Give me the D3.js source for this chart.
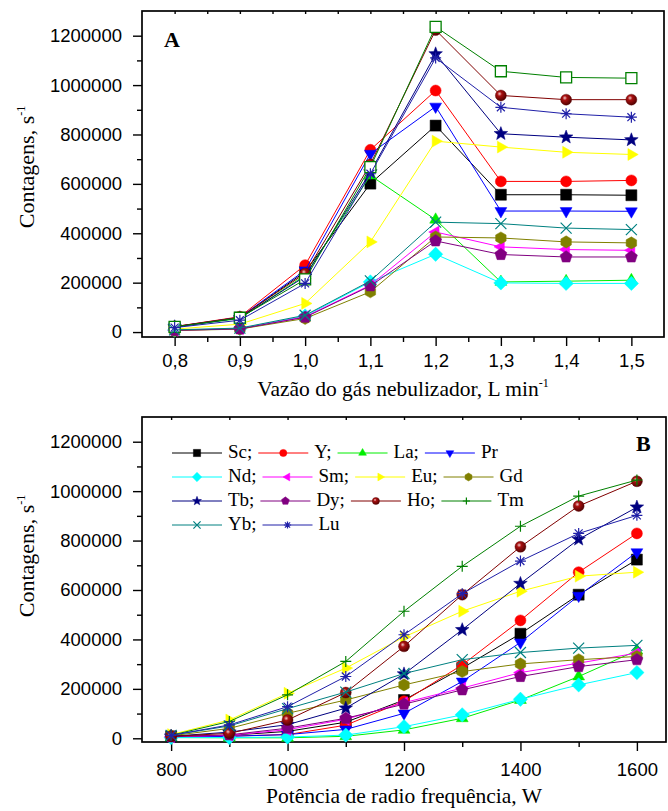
<!DOCTYPE html>
<html>
<head>
<meta charset="utf-8">
<script src="https://cdn.jsdelivr.net/npm/d3@7"></script>
<style>
  body { margin: 0; background: #fff; }
</style>
</head>
<body>
<div id="chart"></div>
<script>
// elements, in plotting / legend order
var elements = ["Sc", "Y", "La", "Pr", "Nd", "Sm", "Eu", "Gd", "Tb", "Dy", "Ho", "Tm", "Yb", "Lu"]

// A: nebulizer gas flow (L/min)
var flowX = [0.8, 0.9, 1.0, 1.1, 1.2, 1.3, 1.4, 1.5]
var flowCounts = [
  [20000, 58000, 244000, 601000, 836000, 556000, 556000, 554000],     // Sc
  [22000, 62000, 271000, 738000, 978000, 610000, 610000, 614000],     // Y
  [20000, 55000, 230000, 634000, 455000, 203000, 206000, 210000],     // La
  [21000, 60000, 250000, 722000, 913000, 490000, 490000, 489000],     // Pr
  [8000, 14000, 65000, 203000, 315000, 199000, 197000, 197000],       // Nd
  [7000, 13000, 62000, 190000, 405000, 345000, 334000, 331000],       // Sm
  [12000, 32000, 116000, 365000, 773000, 749000, 728000, 719000],     // Eu
  [6000, 12000, 55000, 163000, 385000, 381000, 365000, 361000],       // Gd
  [21000, 57000, 225000, 648000, 1126000, 803000, 789000, 778000],    // Tb
  [7000, 13000, 60000, 187000, 369000, 314000, 304000, 304000],       // Dy
  [22000, 60000, 237000, 679000, 1223000, 958000, 941000, 941000],    // Ho
  [21000, 58000, 213000, 668000, 1236000, 1056000, 1031000, 1028000], // Tm
  [9000, 16000, 68000, 207000, 445000, 439000, 421000, 415000],       // Yb
  [18000, 48000, 197000, 641000, 1110000, 910000, 884000, 870000]     // Lu
]

// B: RF power (W)
var powerX = [800, 900, 1000, 1100, 1200, 1300, 1400, 1500, 1600]
var powerCounts = [
  [8000, 12000, 28000, 65000, 155000, 284000, 423000, 581000, 723000],     // Sc
  [6000, 9000, 15000, 53000, 150000, 297000, 477000, 672000, 829000],      // Y
  [3000, 2000, 2000, 8000, 34000, 81000, 155000, 250000, 355000],          // La
  [5000, 8000, 15000, 36000, 101000, 230000, 388000, 577000, 753000],      // Pr
  [3000, 3000, 5000, 13000, 47000, 95000, 158000, 216000, 266000],         // Nd
  [6000, 12000, 35000, 77000, 144000, 203000, 266000, 304000, 345000],     // Sm
  [15000, 74000, 182000, 284000, 410000, 514000, 595000, 656000, 672000],  // Eu
  [10000, 40000, 101000, 155000, 216000, 270000, 301000, 318000, 331000],  // Gd
  [8000, 25000, 55000, 122000, 260000, 439000, 626000, 805000, 935000],    // Tb
  [6000, 14000, 41000, 81000, 138000, 196000, 250000, 290000, 318000],     // Dy
  [8000, 20000, 74000, 185000, 372000, 581000, 775000, 940000, 1040000],   // Ho
  [12000, 68000, 176000, 311000, 514000, 696000, 858000, 980000, 1045000], // Tm
  [12000, 50000, 120000, 187000, 262000, 318000, 347000, 365000, 376000],  // Yb
  [12000, 54000, 128000, 250000, 419000, 585000, 717000, 829000, 902000]   // Lu
]

var countTicks = [0, 200000, 400000, 600000, 800000, 1000000, 1200000]
var countMinor = [100000, 300000, 500000, 700000, 900000, 1100000]
var flowTicks = [0.8, 0.9, 1.0, 1.1, 1.2, 1.3, 1.4, 1.5]
var flowMinor = [0.85, 0.95, 1.05, 1.15, 1.25, 1.35, 1.45]
var powerTicks = [800, 1000, 1200, 1400, 1600]
var powerMinor = [900, 1100, 1300, 1500]

var colors = ["#000000", "#ff0000", "#00ee00", "#0000ff", "#00ffff", "#ff00ff", "#ffff00",
              "#808000", "#000080", "#800080", "#800000", "#008000", "#008080", "#2020a8"]
var symbolsA = ["square", "circle", "up", "down", "diamond", "left", "right",
                "hexagon", "star", "pentagon", "sphere", "open", "x", "asterisk"]
var symbolsB = symbolsA.map(function(s){ return s === "open" ? "plus" : s })

var serif = "'Liberation Serif', 'Times New Roman', 'DejaVu Serif', serif"
var sans = "'Liberation Sans', Arial, sans-serif"

var width = 668, height = 811

var svg = d3.select("#chart").append("svg")
  .attr("width", width)
  .attr("height", height)

var grad = svg.append("defs").append("radialGradient")
  .attr("id", "sphere").attr("cx", "38%").attr("cy", "35%").attr("r", "70%")
grad.append("stop").attr("offset", "0").attr("stop-color", "#f4c8c8")
grad.append("stop").attr("offset", "0.3").attr("stop-color", "#a81010")
grad.append("stop").attr("offset", "1").attr("stop-color", "#4a0000")

function poly(n, r, startDeg){
  var pts = []
  for (var i = 0; i < n; i++){
    var a = (startDeg + i * 360 / n) * Math.PI / 180
    pts.push([r * Math.cos(a), r * Math.sin(a)])
  }
  return "M" + pts.map(function(p){ return p[0].toFixed(2) + "," + p[1].toFixed(2) }).join("L") + "Z"
}

function starPath(ro, ri){
  var pts = []
  for (var i = 0; i < 10; i++){
    var r = i % 2 ? ri : ro
    var a = (-90 + i * 36) * Math.PI / 180
    pts.push([r * Math.cos(a), r * Math.sin(a)])
  }
  return "M" + pts.map(function(p){ return p[0].toFixed(2) + "," + p[1].toFixed(2) }).join("L") + "Z"
}

function markerPath(type, r){
  switch (type){
    case "square": return "M" + (-r) + "," + (-r) + "H" + r + "V" + r + "H" + (-r) + "Z"
    case "open": return "M" + (-r) + "," + (-r) + "H" + r + "V" + r + "H" + (-r) + "Z"
    case "circle":
    case "sphere": return "M" + r + ",0A" + r + "," + r + " 0 1,1 " + (-r) + ",0A" + r + "," + r + " 0 1,1 " + r + ",0Z"
    case "up": return poly(3, r * 1.25, -90)
    case "down": return poly(3, r * 1.25, 90)
    case "left": return poly(3, r * 1.25, 180)
    case "right": return poly(3, r * 1.25, 0)
    case "diamond": return poly(4, r * 1.3, -90)
    case "hexagon": return poly(6, r * 1.1, -90)
    case "pentagon": return poly(5, r * 1.15, -90)
    case "star": return starPath(r * 1.3, r * 0.55)
    case "plus": return "M" + (-r) + ",0H" + r + "M0," + (-r) + "V" + r
    case "x": return "M" + (-r) + "," + (-r) + "L" + r + "," + r + "M" + (-r) + "," + r + "L" + r + "," + (-r)
    case "asterisk":
      var d = r * 0.72
      return "M" + (-r) + ",0H" + r + "M0," + (-r) + "V" + r +
        "M" + (-d) + "," + (-d) + "L" + d + "," + d + "M" + (-d) + "," + d + "L" + d + "," + (-d)
  }
}

function styleMarker(sel, type, color){
  if (type === "plus" || type === "x" || type === "asterisk"){
    sel.attr("fill", "none").attr("stroke", color).attr("stroke-width", 1.2)
  } else if (type === "open"){
    sel.attr("fill", "#fff").attr("stroke", color).attr("stroke-width", 1.3)
  } else if (type === "sphere"){
    sel.attr("fill", "url(#sphere)").attr("stroke", "#5a0000").attr("stroke-width", 0.4)
  } else {
    sel.attr("fill", color).attr("stroke", color).attr("stroke-width", 0.5)
  }
}

function drawPanel(p){
  var x = d3.scaleLinear().domain(p.xDomain).range([p.left, p.right])
  var y = d3.scaleLinear().domain(p.yDomain).range([p.bottom, p.top])
  var g = svg.append("g")

  // axes
  g.append("g").attr("transform", "translate(0," + p.bottom + ")")
    .call(d3.axisBottom(x).tickValues(p.xTicks).tickSize(9).tickPadding(p.xPad).tickFormat(p.xFormat))
  g.append("g").attr("transform", "translate(0," + p.bottom + ")")
    .call(d3.axisBottom(x).tickValues(p.xMinor).tickSize(5).tickFormat(""))
  g.append("g").attr("transform", "translate(0," + p.top + ")")
    .call(d3.axisBottom(x).tickValues(p.xTicks.concat(p.xMinor)).tickSize(3).tickFormat(""))
  g.append("g").attr("transform", "translate(" + p.left + ",0)")
    .call(d3.axisLeft(y).tickValues(countTicks).tickSize(9).tickPadding(11).tickFormat(d3.format("d")))
  g.append("g").attr("transform", "translate(" + p.left + ",0)")
    .call(d3.axisLeft(y).tickValues(countMinor).tickSize(5).tickFormat(""))
  g.selectAll(".domain").remove()
  g.selectAll(".tick line").attr("stroke", "#000").attr("stroke-width", 1.4)
  g.selectAll(".tick text")
    .attr("fill", "#000")
    .style("font-family", sans)
    .style("font-size", "18.5px")

  g.append("rect")
    .attr("x", p.left).attr("y", p.top)
    .attr("width", p.right - p.left).attr("height", p.bottom - p.top)
    .attr("fill", "none").attr("stroke", "#000").attr("stroke-width", 1.7)

  // series
  var line = d3.line()
    .x(function(d){ return x(d[0]) })
    .y(function(d){ return y(d[1]) })

  p.counts.forEach(function(vals, i){
    var pts = p.xs.map(function(v, j){ return [v, vals[j]] })
    var s = g.append("g")
    s.append("path").datum(pts)
      .attr("d", line)
      .attr("fill", "none")
      .attr("stroke", colors[i])
      .attr("stroke-width", 1)
    s.selectAll(".m").data(pts).enter().append("path")
      .attr("class", "m")
      .attr("transform", function(d){ return "translate(" + x(d[0]) + "," + y(d[1]) + ")" })
      .attr("d", markerPath(p.symbols[i], 5.5))
      .call(styleMarker, p.symbols[i], colors[i])
  })

  // y title
  var yt = g.append("text")
    .attr("transform", "translate(34," + p.yTitleY + ") rotate(-90)")
    .attr("text-anchor", "middle")
    .style("font-family", serif)
    .style("font-size", "22px")
  yt.append("tspan").text("Contagens, s")
  yt.append("tspan").attr("dy", -9).style("font-size", "12px").text("-1")

  // x title
  var xt = g.append("text")
    .attr("x", (p.left + p.right) / 2).attr("y", p.xTitleY)
    .attr("text-anchor", "middle")
    .style("font-family", serif)
    .style("font-size", "21.5px")
  xt.append("tspan").text(p.xTitle)
  if (p.xTitleSup) xt.append("tspan").attr("dy", -9).style("font-size", "12px").text(p.xTitleSup)

  // panel letter
  g.append("text")
    .attr("x", p.letterX).attr("y", p.letterY)
    .style("font-family", serif)
    .style("font-size", "22px").style("font-weight", "bold")
    .text(p.letter)

  return g
}

drawPanel({
  left: 142, right: 664, top: 11, bottom: 337,
  xDomain: [0.75, 1.55], yDomain: [-20000, 1300000],
  xTicks: flowTicks, xMinor: flowMinor, xPad: 8,
  xFormat: function(d){ return d.toFixed(1).replace(".", ",") },
  xs: flowX, counts: flowCounts, symbols: symbolsA,
  yTitleY: 167, xTitleY: 396,
  xTitle: "Vazão do gás nebulizador, L min", xTitleSup: "-1",
  letter: "A", letterX: 164, letterY: 47
})

var gB = drawPanel({
  left: 142, right: 666, top: 417, bottom: 742,
  xDomain: [750, 1650], yDomain: [-15000, 1300000],
  xTicks: powerTicks, xMinor: powerMinor, xPad: 12,
  xFormat: d3.format("d"),
  xs: powerX, counts: powerCounts, symbols: symbolsB,
  yTitleY: 556, xTitleY: 803,
  xTitle: "Potência de radio frequência, W", xTitleSup: null,
  letter: "B", letterX: 636, letterY: 451
})

// legend, four entries per row
var legend = gB.append("g")
var perRow = 4
var cursor = 172
elements.forEach(function(name, i){
  var row = Math.floor(i / perRow), col = i % perRow
  if (col === 0) cursor = 172
  var yb = 458 + row * 24
  var ym = yb - 5
  var last = col === perRow - 1 || i === elements.length - 1
  legend.append("line")
    .attr("x1", cursor).attr("x2", cursor + 50).attr("y1", ym).attr("y2", ym)
    .attr("stroke", colors[i]).attr("stroke-width", 1)
  legend.append("path")
    .attr("transform", "translate(" + (cursor + 25) + "," + ym + ")")
    .attr("d", markerPath(symbolsB[i], 3.6))
    .call(styleMarker, symbolsB[i], colors[i])
  var t = legend.append("text")
    .attr("x", cursor + 56).attr("y", yb)
    .style("font-family", serif)
    .style("font-size", "19px")
    .text(name + (last ? "" : ";"))
  cursor = cursor + 56 + t.node().getComputedTextLength() + 6
})
</script>
</body>
</html>
